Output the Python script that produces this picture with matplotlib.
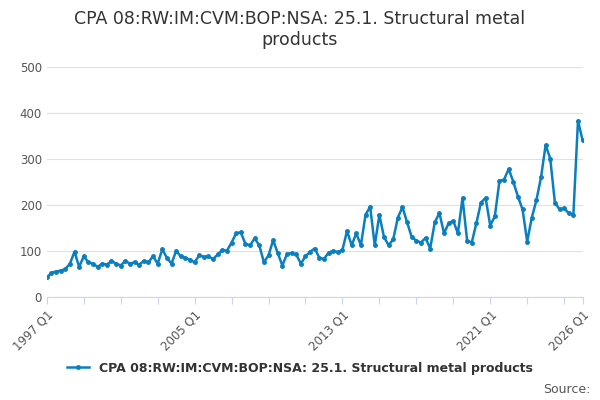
import matplotlib.pyplot as plt
import numpy as np

# quarterly values 1997 Q1 .. 2026 Q1
values = [42, 52, 55, 57, 60, 72, 98, 65, 88, 75, 72, 65, 72, 70, 78, 72,
          68, 78, 72, 75, 70, 78, 75, 88, 72, 103, 85, 72, 100, 88, 85, 80,
          75, 90, 87, 88, 82, 92, 102, 100, 118, 138, 140, 115, 112, 127, 112, 75,
          90, 123, 95, 68, 93, 95, 92, 72, 88, 98, 105, 85, 82, 96, 100, 97,
          102, 143, 112, 138, 112, 178, 196, 112, 178, 130, 112, 125, 172, 195, 162, 130,
          122, 118, 128, 105, 162, 182, 138, 160, 165, 138, 215, 122, 118, 160, 205, 215,
          155, 175, 252, 255, 278, 250, 218, 190, 120, 172, 210, 260, 330, 300, 205, 190,
          192, 182, 178, 383, 340]
labels = [f"{1997 + i // 4} Q{i % 4 + 1}" for i in range(len(values))]
series_name = "CPA 08:RW:IM:CVM:BOP:NSA: 25.1. Structural metal products"

color = "#0a7fc0"
fig = plt.figure(figsize=(6, 4), dpi=100)
ax = fig.add_axes([0.078, 0.258, 0.893, 0.575])
x = np.arange(len(values))
ax.plot(x, values, color=color, lw=1.8, marker="o", ms=2.5, label=series_name)

ax.set_ylim(0, 500)
ax.set_yticks(range(0, 501, 100))
ax.set_xlim(0, len(values) - 1)
ax.set_xticks(list(range(0, len(values), 8)) + [len(values) - 1], minor=False)
tick_labels = ["" for _ in range(0, len(values), 8)] + [labels[-1]]
for i, t in enumerate(range(0, len(values), 8)):
    if t % 32 == 0:
        tick_labels[i] = labels[t]
ax.set_xticklabels(tick_labels, rotation=45, ha="right", rotation_mode="anchor")
ax.tick_params(axis="x", length=5, color="#ccd6eb", labelsize=8.5, labelcolor="#555555")
ax.tick_params(axis="y", length=0, labelsize=8.5, labelcolor="#555555")
ax.grid(axis="y", color="#e0e0e0", lw=0.8)
ax.set_axisbelow(True)
for s in ["top", "right", "left"]:
    ax.spines[s].set_visible(False)
ax.spines["bottom"].set_color("#ccd6eb")

fig.suptitle("CPA 08:RW:IM:CVM:BOP:NSA: 25.1. Structural metal\nproducts",
             y=0.975, fontsize=12.5, color="#333333")
fig.legend(loc="lower center", bbox_to_anchor=(0.5, 0.035), frameon=False,
           prop={"size": 9, "weight": "bold"}, labelcolor="#333333", handlelength=1.8)
fig.text(0.985, 0.01, "Source:", ha="right", va="bottom", fontsize=9, color="#555555")
fig.savefig("out.png")
